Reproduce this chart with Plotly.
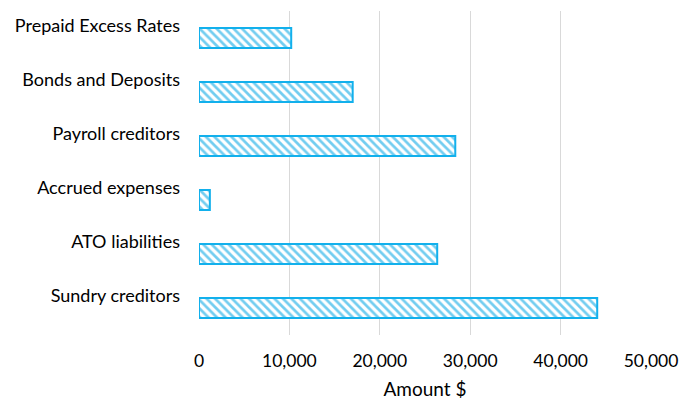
import plotly.graph_objects as go

# Liability categories, listed top to bottom as displayed
categories = [
    "Prepaid Excess Rates",
    "Bonds and Deposits",
    "Payroll creditors",
    "Accrued expenses",
    "ATO liabilities",
    "Sundry creditors",
]
amounts = [10200, 17000, 28350, 1200, 26350, 44050]

x_tick_values = [0, 10000, 20000, 30000, 40000, 50000]
x_tick_labels = ["0", "10,000", "20,000", "30,000", "40,000", "50,000"]

font_family = "Lato, 'Open Sans', sans-serif"

fig = go.Figure(
    go.Bar(
        x=amounts,
        y=categories,
        orientation="h",
        marker=dict(
            color="#72cdf0",
            line=dict(color="#12b0ec", width=2),
            pattern=dict(
                shape="\\",
                fgcolor="#72cdf0",
                bgcolor="#ffffff",
                size=6,
                solidity=0.45,
                fillmode="replace",
            ),
        ),
    )
)

fig.update_layout(
    width=681,
    height=400,
    margin=dict(l=199, r=30, t=11, b=65, autoexpand=False),
    paper_bgcolor="white",
    plot_bgcolor="white",
    bargap=0.63,
    showlegend=False,
    font=dict(family=font_family, size=18, color="#000000"),
)

fig.update_xaxes(
    range=[0, 50000],
    tickvals=x_tick_values,
    ticktext=x_tick_labels,
    showgrid=True,
    gridcolor="#d9d9d9",
    gridwidth=1,
    zeroline=False,
    showline=False,
    ticks="",
    automargin=False,
    ticklabelstandoff=13,
    tickfont=dict(size=17.5),
    title=dict(text="Amount $", font=dict(size=19), standoff=18),
)

fig.update_yaxes(
    autorange="reversed",
    showgrid=False,
    zeroline=False,
    showline=False,
    ticks="",
    automargin=False,
    ticklabelstandoff=18,
    ticklabelshift=12,
    tickfont=dict(size=18),
)

fig.write_html("out.html")
